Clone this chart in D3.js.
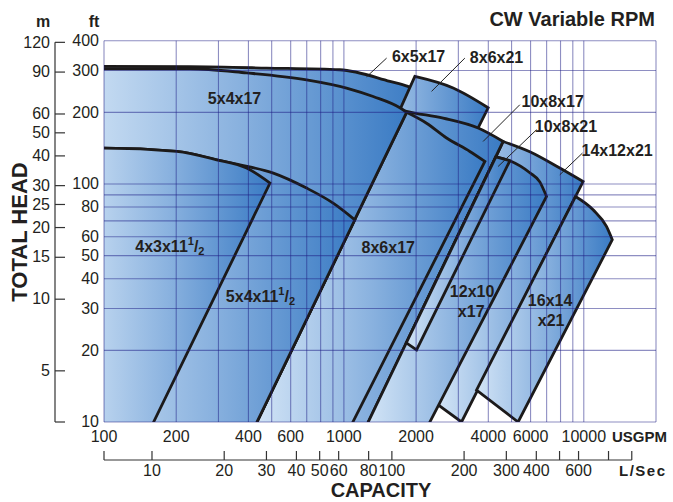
<!DOCTYPE html>
<html><head><meta charset="utf-8">
<script src="https://cdn.jsdelivr.net/npm/d3@7"></script>
<style>body{margin:0;background:#fff}svg{display:block}text{font-family:"Liberation Sans",Arial,sans-serif;fill:#231f20}</style>
</head><body><svg id="c" width="673" height="502"></svg>
<script>
// ---------- axis / tick data ----------
const ftLabels=[10,20,30,40,50,60,80,100,200,300,400];
const ftGrid=[10,20,30,40,50,60,70,80,90,100,200,300,400];
const mTicks=[5,10,15,20,25,30,40,50,60,90,120];
const gpmLabels=[100,200,400,600,1000,2000,4000,6000,10000];
const gpmGrid=[100,200,300,400,500,600,700,800,900,1000,2000,3000,4000,5000,6000,7000,8000,9000,10000,20000];
const lpsTicks=[10,20,30,40,50,60,80,100,200,300,400,500,600,800,1000];
const lpsLabels=[10,20,30,40,50,60,80,100,200,300,400,600];

// ---------- pump regions: [USGPM, ft] ----------
const top6x5x17=[[100,312],[228,311],[476,307],[962,302],[1555,270],[1848,257],[2070,244]];
const rest6x5x17=[[447,10],[100,10]];
const top8x6x21=[[1976,283],[2854,253],[3993,209]];
const rest8x6x21=[[1967,50],[913,50]];
const top14x12x21=[[4610,150.9],[5957,136.6],[7943,116.7],[9934,102.4]];
const rest14x12x21=[[3093,10],[2472,11.8],[4300,130.1]];
const top16x14x21=[[9234,88.6],[10934,77.9],[12434,66.3],[13147,58.3]];
const rest16x14x21=[[5324,10],[3572,13.6]];
const top10x8x17=[[1283,226],[1825,202],[2593,189],[3628,171.8],[4610,150.9]];
const rest10x8x17=[[1263,10],[287,10]];
const top12x10x17=[[4300,130.1],[4917,125.2],[5957,111.5],[6556,102.1],[6993,88.6]];
const rest12x10x17=[[2282,10],[1263,10]];
const top10x8x21=[[4300,130.1],[4917,125.2]];
const rest10x8x21=[[2009,20.1],[1820,21.5]];
const top8x6x17=[[1825,200],[2211,180],[2680,156],[3350,137],[3870,124.4]];
const rest8x6x17=[[1090,10],[434,10]];
const top5x4x17=[[100,305],[228,305],[393,293],[699,274],[1026,253],[1325,233],[1711,209],[1825,200]];
const rest5x4x17=[[434,10],[100,10]];
const top5x4x11h=[[100,141.6],[201,137],[295,126.4],[369,120.4],[508,111.1],[699,96.1],[902,83.1],[1111,70.7]];
const rest5x4x11h=[[434,10],[100,10]];
const top4x3x11h=[[100,141.6],[201,137],[295,126.4],[393,116.7],[492,100.9]];
const rest4x3x11h=[[161,10],[100,10]];

// labels: [text, gpm, ft]
const labels=[["5x4x17",271,217.4],["6x5x17",1585,324],["8x6x21",3350,323],["10x8x17",5501,209.8],
["10x8x21",6250,164.7],["14x12x21",9782,131.4],["5x4x11",322,32],["8x6x17",1185,51.4],
["12x10",2765,33.4],["x17",2985,27.5],["16x14",5845,30.7],["x21",6431,25.3],["4x3x11",135,51.9]];
// pointer lines: [gpm1, ft1, gpm2, ft2]
const pointers=[[1507,338,1243,282],[3193,338,2320,245],[5412,215.3,3805,150.9],[6353,169,4395,118.5],[9877,134.9,7943,109.3]];

// ---------- scales ----------
const GPM_MIN=100,GPM_MAX=20000,FT_MIN=10,FT_MAX=400;
const x=d3.scaleLog().domain([GPM_MIN,GPM_MAX]).range([104,656]);
const y=d3.scaleLog().domain([FT_MIN,FT_MAX]).range([422,40.7]);
const FT_PER_M=1/0.3048, GPM_PER_LPS=15.8503;
const xL=d3.scaleLog().domain([GPM_MIN/GPM_PER_LPS,GPM_MAX/GPM_PER_LPS]).range([104,656]);
const ym=v=>y(v*FT_PER_M);

const svg=d3.select("#c");
const defs=svg.append("defs");
const g=defs.append("linearGradient").attr("id","grad").attr("x1",0).attr("y1",0).attr("x2",1).attr("y2",0);
g.append("stop").attr("offset","0%").attr("stop-color","#d2e4f6");
g.append("stop").attr("offset","50%").attr("stop-color","#8ab2df");
g.append("stop").attr("offset","100%").attr("stop-color","#3a7bc4");

// edges lying on the plot frame are pushed outside the clip so they carry no black outline
const OUT_G=GPM_MIN*0.7, OUT_F=FT_MIN*0.7;
const curve=d3.line().x(d=>x(d[0])).y(d=>y(d[1])).curve(d3.curveMonotoneX);
function shapePath(top,rest){
  const t=top.slice(); if(t[0][0]===GPM_MIN) t.unshift([OUT_G,t[0][1]]);
  let p=curve(t);
  const out=[];
  rest.forEach((r,i)=>{
    const gx=r[0]===GPM_MIN?OUT_G:r[0];
    if(r[1]===FT_MIN){
      if(i>0&&rest[i-1][1]===FT_MIN) out.push([gx,OUT_F]);
      else out.push([gx,r[1]]);
      if(i<rest.length-1&&rest[i+1][1]===FT_MIN) out.push([gx,OUT_F]);
      else if(i>0&&rest[i-1][1]===FT_MIN&&gx===OUT_G){} else if(i>0&&rest[i-1][1]===FT_MIN) out.push([gx,r[1]]);
    } else out.push([gx,r[1]]);
  });
  out.forEach(d=>{p+="L"+x(d[0])+","+y(d[1]);});
  return p+"Z";
}
const shapes=[[top6x5x17,rest6x5x17],[top8x6x21,rest8x6x21],[top14x12x21,rest14x12x21],[top16x14x21,rest16x14x21],
[top10x8x17,rest10x8x17],[top12x10x17,rest12x10x17],[top10x8x21,rest10x8x21],[top8x6x17,rest8x6x17],
[top5x4x17,rest5x4x17],[top5x4x11h,rest5x4x11h],[top4x3x11h,rest4x3x11h]];
defs.append("clipPath").attr("id","pc").append("rect").attr("x",x(GPM_MIN)).attr("y",y(FT_MAX)).attr("width",x(GPM_MAX)-x(GPM_MIN)).attr("height",y(FT_MIN)-y(FT_MAX));
const sg=svg.append("g").attr("clip-path","url(#pc)");
shapes.forEach(s=>{sg.append("path").attr("d",shapePath(s[0],s[1])).attr("fill","url(#grad)").attr("stroke","#1c1a1a").attr("stroke-width",2.8).attr("stroke-linejoin","miter");});

// grid
const gg=svg.append("g").attr("stroke","#1e1e86").attr("stroke-opacity",0.5).attr("stroke-width",1.1);
gpmGrid.forEach(v=>gg.append("line").attr("x1",x(v)).attr("x2",x(v)).attr("y1",y(FT_MAX)).attr("y2",y(FT_MIN)));
ftGrid.forEach(v=>gg.append("line").attr("x1",x(GPM_MIN)).attr("x2",x(GPM_MAX)).attr("y1",y(v)).attr("y2",y(v)));

// pointers
pointers.forEach(p=>svg.append("line").attr("x1",x(p[0])).attr("y1",y(p[1])).attr("x2",x(p[2])).attr("y2",y(p[3])).attr("stroke","#222").attr("stroke-width",1));

// labels
labels.forEach(l=>{
  const t=svg.append("text").attr("x",x(l[1])).attr("y",y(l[2])).attr("font-size",16).attr("font-weight","bold").text(l[0]);
  if(l[0]==="4x3x11"||l[0]==="5x4x11"){
    t.append("tspan").attr("font-size",11).attr("dy",-7).text("1");
    t.append("tspan").attr("font-size",16).attr("dy",7).text("/");
    t.append("tspan").attr("font-size",11).attr("dy",3).text("2");
  }
});

// ft labels
ftLabels.forEach(v=>svg.append("text").attr("x",99).attr("y",y(v)+5.2).attr("text-anchor","end").attr("font-size",16).text(v));
// m axis
svg.append("line").attr("x1",55).attr("x2",55).attr("y1",ym(120)).attr("y2",y(FT_MIN)).attr("stroke","#333").attr("stroke-width",1.2);
[FT_MIN/FT_PER_M].concat(mTicks).forEach(v=>svg.append("line").attr("x1",55).attr("x2",65).attr("y1",ym(v)).attr("y2",ym(v)).attr("stroke","#333").attr("stroke-width",1.2));
mTicks.forEach(v=>svg.append("text").attr("x",50).attr("y",ym(v)+5.2).attr("text-anchor","end").attr("font-size",16).text(v));
svg.append("text").attr("x",43).attr("y",27).attr("text-anchor","middle").attr("font-size",16).attr("font-weight","bold").text("m");
svg.append("text").attr("x",94).attr("y",27).attr("text-anchor","middle").attr("font-size",16).attr("font-weight","bold").text("ft");

// gpm labels
gpmLabels.forEach(v=>svg.append("text").attr("x",x(v)).attr("y",441.5).attr("text-anchor","middle").attr("font-size",16).text(v));
svg.append("text").attr("x",612).attr("y",441.5).attr("font-size",15).attr("font-weight","bold").text("USGPM");
// L/s axis
const lEnd=1000;
svg.append("line").attr("x1",xL(xL.domain()[0])).attr("x2",xL(lEnd)).attr("y1",460).attr("y2",460).attr("stroke","#333").attr("stroke-width",1.2);
[xL.domain()[0]].concat(lpsTicks).forEach(v=>svg.append("line").attr("x1",xL(v)).attr("x2",xL(v)).attr("y1",460).attr("y2",451).attr("stroke","#333").attr("stroke-width",1.2));
lpsLabels.forEach(v=>svg.append("text").attr("x",xL(v)).attr("y",476).attr("text-anchor","middle").attr("font-size",16).text(v));
svg.append("text").attr("x",619).attr("y",476).attr("font-size",15).attr("font-weight","bold").attr("letter-spacing",1.5).text("L/Sec");

// titles
svg.append("text").attr("x",655).attr("y",26).attr("text-anchor","end").attr("font-size",20).attr("font-weight","bold").text("CW Variable RPM");
svg.append("text").attr("transform","translate(27,232) rotate(-90)").attr("text-anchor","middle").attr("font-size",22).attr("font-weight","bold").text("TOTAL HEAD");
svg.append("text").attr("x",381).attr("y",497).attr("text-anchor","middle").attr("font-size",20).attr("font-weight","bold").text("CAPACITY");
</script></body></html>
